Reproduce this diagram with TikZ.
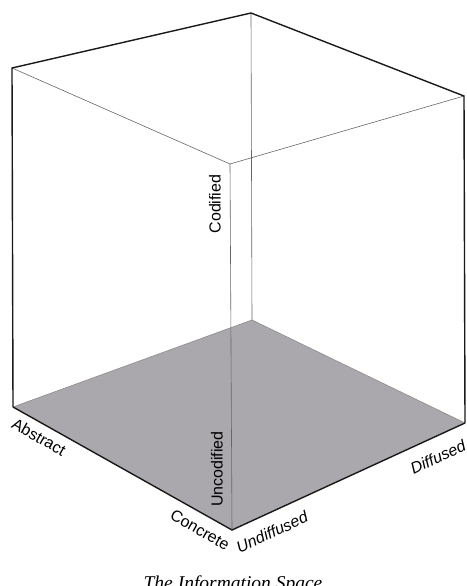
\documentclass[tikz,border=0pt]{standalone}
\usepackage{fontspec}
\setmainfont{Liberation Serif}
\setsansfont{Liberation Sans}
\begin{document}
\begin{tikzpicture}[x=1pt,y=-1pt,
  thickedge/.style={line width=1.4pt,black!90},
  thinedge/.style={line width=0.6pt,black!60},
  axislabel/.style={font=\sffamily\fontsize{16}{19}\selectfont,inner sep=0pt},
  caption/.style={font=\itshape\fontsize{19.5}{22}\selectfont,inner sep=0pt,anchor=base}]
\definecolor{floorgray}{RGB}{170,168,172}
\useasboundingbox (0,0) rectangle (466,586);
% corners
\coordinate (Lt) at (12,68);
\coordinate (Bt) at (251,13);
\coordinate (Rt) at (464,96);
\coordinate (Ft) at (230,164);
\coordinate (Lb) at (13,407);
\coordinate (Bb) at (252,320);
\coordinate (Rb) at (465,423);
\coordinate (Fb) at (232,530);
% floor
\fill[floorgray] (Lb) -- (Bb) -- (Rb) -- (Fb) -- cycle;
\draw[thinedge,black!45] (Lb) -- (Bb) -- (Rb);
% thin edges
\draw[thinedge] (Lt) -- (Ft) -- (Rt);
\draw[thinedge] (Bt) -- (Bb);
\draw[thinedge] (Ft) -- (Fb);
% thick edges
\draw[thickedge] (Lb) -- (Lt) -- (Bt) -- (Rt) -- (Rb);
\draw[thickedge] (Lb) -- (Fb) -- (Rb);
% labels
\node[axislabel,rotate=90] (cod) at (215,204) {Codified};
\node[axislabel,rotate=90] (uncod) at (217,469) {Uncodified};
\node[axislabel,rotate=-29.3] (abs) at (39,437) {Abstract};
\node[axislabel,rotate=-29.3] (con) at (200,530) {Concrete};
\node[axislabel,rotate=24.6,font=\sffamily\itshape\fontsize{16}{19}\selectfont] (undif) at (272,532) {Undiffused};
\node[axislabel,rotate=24.6,font=\sffamily\itshape\fontsize{16}{19}\selectfont] (dif) at (438,457) {Diffused};
\node[caption] (cap) at (233,589) {The Information Space};
\end{tikzpicture}
\end{document}
